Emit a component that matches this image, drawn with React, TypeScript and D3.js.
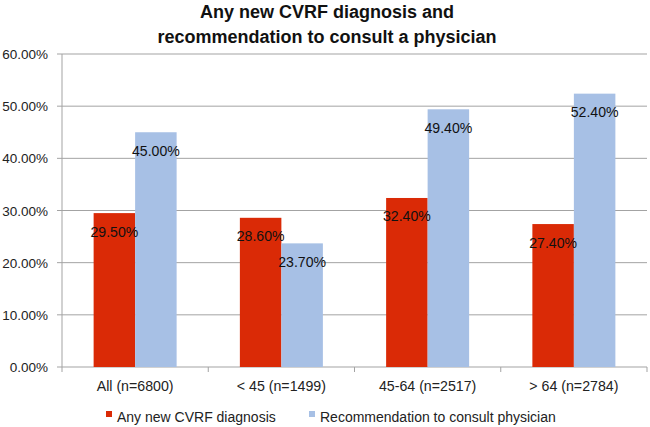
import React from "react";
import * as d3 from "d3";

const categories = ["All (n=6800)", "< 45 (n=1499)", "45-64 (n=2517)", "> 64 (n=2784)"];
const seriesNames = ["Any new CVRF diagnosis", "Recommendation to consult physician"];
const diagnosis = [29.5, 28.6, 32.4, 27.4];
const recommendation = [45.0, 23.7, 49.4, 52.4];
const yTicks = [0, 10, 20, 30, 40, 50, 60];
const titleLines = ["Any new CVRF diagnosis and", "recommendation to consult a physician"];
const colors = ["#DA2A06", "#A7C0E5"];

export default function App() {
  const W = 650, H = 427;
  const left = 62, right = 647, top = 54, bottom = 367;
  const x = d3.scaleBand<string>().domain(categories).range([left, right]);
  const y = d3.scaleLinear().domain([0, 60]).range([bottom, top]);
  const series = [diagnosis, recommendation];
  const barW = 41.5;
  const font = "Liberation Sans, Arial, sans-serif";

  return (
    <svg width={W} height={H} style={{ position: "absolute", left: 0, top: 0, background: "#fff" }} fontFamily={font}>
      {titleLines.map((t, i) => (
        <text key={i} x={327} y={18 + i * 24.5} textAnchor="middle" fontSize={18} fontWeight="bold" fill="#111">{t}</text>
      ))}
      {yTicks.map((t) => (
        <g key={t}>
          <line x1={left} x2={right} y1={y(t)} y2={y(t)} stroke="#a3a3a3" strokeWidth={1} />
          <line x1={left - 5} x2={left} y1={y(t)} y2={y(t)} stroke="#a3a3a3" strokeWidth={1} />
          <text x={48} y={y(t) + 5} textAnchor="end" fontSize={13.5} fill="#222">{t.toFixed(2)}%</text>
        </g>
      ))}
      <line x1={left} x2={left} y1={top} y2={bottom} stroke="#a3a3a3" strokeWidth={1} />
      {categories.map((c, i) => (
        <g key={c}>
          <line x1={x(c)!} x2={x(c)!} y1={bottom} y2={bottom + 5} stroke="#a3a3a3" />
          {i === categories.length - 1 && (
            <line x1={x(c)! + x.bandwidth()} x2={x(c)! + x.bandwidth()} y1={bottom} y2={bottom + 5} stroke="#a3a3a3" />
          )}
          <text x={x(c)! + x.bandwidth() / 2} y={391} textAnchor="middle" fontSize={14.2} fill="#222">{c}</text>
        </g>
      ))}
      {categories.map((c, i) => {
        const cx = x(c)! + x.bandwidth() / 2;
        return series.map((s, j) => {
          const bx = cx - barW + j * barW;
          return (
            <g key={c + j}>
              <rect x={bx} y={y(s[i])} width={barW} height={bottom - y(s[i])} fill={colors[j]} />
            </g>
          );
        });
      })}
      {categories.map((c, i) => {
        const cx = x(c)! + x.bandwidth() / 2;
        return series.map((s, j) => {
          const bx = cx - barW + j * barW;
          return (
            <text key={"l" + c + j} x={bx + barW / 2} y={y(s[i]) + 23.5} textAnchor="middle" fontSize={14.1} fill="#111">
              {s[i].toFixed(2)}%
            </text>
          );
        });
      })}
      {seriesNames.map((n, j) => {
        const lx = j === 0 ? 106 : 309;
        return (
          <g key={n}>
            <rect x={lx} y={411} width={6} height={6} fill={colors[j]} />
            <text x={lx + 11} y={421.5} fontSize={14} fill="#222">{n}</text>
          </g>
        );
      })}
    </svg>
  );
}
